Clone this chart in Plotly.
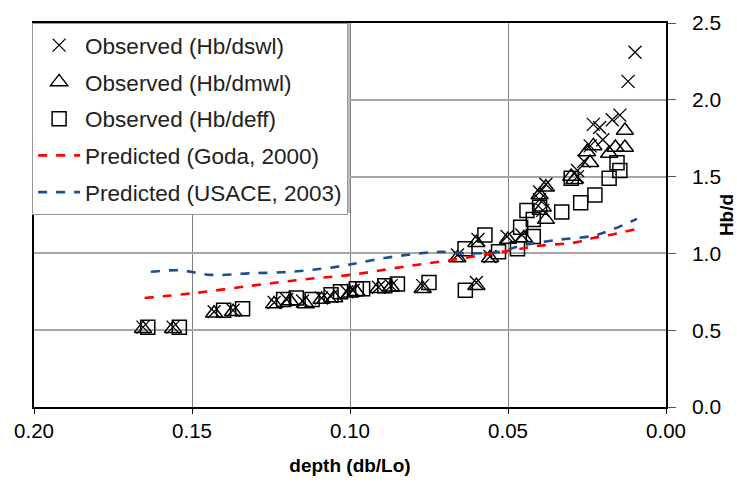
import plotly.graph_objects as go

# Observed (Hb/dswl) - crosses
dswl_x = [0.1655, 0.156, 0.143, 0.137, 0.124, 0.120, 0.115, 0.109, 0.106, 0.101, 0.099, 0.091, 0.087, 0.077, 0.060,
          0.066, 0.0595, 0.0557, 0.0503, 0.0456, 0.039, 0.040, 0.038, 0.040, 0.028, 0.028, 0.026, 0.024, 0.020, 0.023,
          0.021, 0.017, 0.0146, 0.012, 0.0098]
dswl_y = [0.52, 0.52, 0.62, 0.63, 0.68, 0.70, 0.69, 0.71, 0.72, 0.75, 0.76, 0.78, 0.79, 0.79, 0.81,
          0.99, 1.09, 0.98, 1.11, 1.12, 1.28, 1.35, 1.45, 1.40, 1.50, 1.54, 1.60, 1.70, 1.74, 1.84,
          1.82, 1.87, 1.90, 2.12, 2.31]

# Observed (Hb/dmwl) - triangles
dmwl_x = [0.1655, 0.156, 0.143, 0.137, 0.124, 0.119, 0.114, 0.109, 0.105, 0.100, 0.098, 0.091, 0.087, 0.077, 0.060,
          0.066, 0.060, 0.0557, 0.050, 0.045, 0.038, 0.039, 0.038, 0.040, 0.029, 0.030, 0.024, 0.025, 0.023,
          0.018, 0.016, 0.013, 0.013]
dmwl_y = [0.51, 0.51, 0.61, 0.62, 0.67, 0.69, 0.67, 0.70, 0.71, 0.74, 0.75, 0.77, 0.78, 0.77, 0.79,
          0.97, 1.07, 0.97, 1.09, 1.10, 1.22, 1.30, 1.43, 1.38, 1.48, 1.50, 1.59, 1.66, 1.70,
          1.65, 1.69, 1.69, 1.80]

# Observed (Hb/deff) - squares
deff_x = [0.164, 0.154, 0.140, 0.134, 0.121, 0.117, 0.112, 0.106, 0.103, 0.098, 0.096, 0.089, 0.085, 0.075, 0.0635,
          0.0636, 0.0573, 0.053, 0.047, 0.042, 0.046, 0.044, 0.042, 0.040, 0.033, 0.027, 0.0225, 0.030,
          0.018, 0.0146, 0.0155]
deff_y = [0.52, 0.52, 0.63, 0.64, 0.70, 0.71, 0.70, 0.73, 0.75, 0.77, 0.77, 0.79, 0.80, 0.81, 0.76,
          1.03, 1.12, 1.01, 1.03, 1.11, 1.17, 1.28, 1.22, 1.30, 1.27, 1.33, 1.38, 1.49,
          1.49, 1.54, 1.59]

# Predicted (Goda, 2000)
goda_x = [0.165, 0.150, 0.131, 0.115, 0.100, 0.084, 0.067, 0.049, 0.040, 0.029, 0.023, 0.0165, 0.0092]
goda_y = [0.71, 0.74, 0.79, 0.83, 0.86, 0.91, 0.96, 1.02, 1.05, 1.07, 1.10, 1.125, 1.16]

# Predicted (USACE, 2003)
usace_x = [0.163, 0.154, 0.144, 0.132, 0.119, 0.109, 0.102, 0.097, 0.089, 0.078, 0.0715, 0.062, 0.0525, 0.046,
           0.0335, 0.023, 0.0165, 0.0092]
usace_y = [0.88, 0.89, 0.86, 0.87, 0.88, 0.90, 0.92, 0.94, 0.97, 1.00, 1.01, 1.00, 1.01, 1.05,
           1.09, 1.115, 1.16, 1.225]

x_ticks = [0.20, 0.15, 0.10, 0.05, 0.00]
y_ticks = [0.0, 0.5, 1.0, 1.5, 2.0, 2.5]

FONT = "Liberation Sans, Arial, sans-serif"

fig = go.Figure()
fig.add_trace(go.Scatter(x=dswl_x, y=dswl_y, mode="markers", name="Observed (Hb/dswl)", legendgroup="a",
                         marker=dict(symbol="x-thin-open", size=13, line=dict(color="black", width=1.3), color="black")))
fig.add_trace(go.Scatter(x=dmwl_x, y=dmwl_y, mode="markers", name="Observed (Hb/dmwl)", legendgroup="b",
                         marker=dict(symbol="triangle-up-open", size=15, line=dict(color="black", width=1.5), color="black")))
fig.add_trace(go.Scatter(x=deff_x, y=deff_y, mode="markers", name="Observed (Hb/deff)", legendgroup="c",
                         marker=dict(symbol="square-open", size=14, line=dict(color="black", width=1.5), color="black")))
fig.add_trace(go.Scatter(x=goda_x, y=goda_y, mode="lines", name="Predicted (Goda, 2000)", legendgroup="d",
                         line=dict(color="#ff0000", width=2.6, dash="dash", shape="spline")))
fig.add_trace(go.Scatter(x=usace_x, y=usace_y, mode="lines", name="Predicted (USACE, 2003)", legendgroup="e",
                         line=dict(color="#1f4e8c", width=2.6, dash="dash", shape="spline")))

# legend drop shadow (paper coordinates of the plot area)
fig.add_shape(type="rect", xref="paper", yref="paper",
              x0=(347 - 34) / 632, x1=(350 - 34) / 632, y0=(407 - 213) / 384, y1=1.0,
              fillcolor="#bdbdbd", line=dict(width=0), layer="above")

fig.update_layout(
    width=737, height=484,
    margin=dict(l=34, r=71, t=23, b=77, autoexpand=False),
    paper_bgcolor="white", plot_bgcolor="white",
    font=dict(family=FONT, size=21, color="black"),
    showlegend=True,
    legend=dict(x=-0.003, y=1.0, xanchor="left", yanchor="top",
                bgcolor="white", bordercolor="#999999", borderwidth=1,
                font=dict(family=FONT, size=22.5, color="#222222"),
                itemwidth=42,
                tracegroupgap=4.5, traceorder="grouped"),
    xaxis=dict(range=[0.2, 0.0], tickvals=x_ticks, ticktext=[f"{v:.2f}" for v in x_ticks],
               showgrid=True, gridcolor="#808080", gridwidth=1,
               showline=True, linecolor="black", linewidth=1.5, mirror=True,
               ticks="outside", ticklen=5, tickcolor="black", zeroline=False,
               tickfont=dict(size=20.5), automargin=False,
               title=dict(text="<b>depth (db/Lo)</b>", font=dict(size=19), standoff=17)),
    yaxis=dict(range=[0, 2.5], tickvals=y_ticks, ticktext=[f"{v:.1f}" for v in y_ticks], side="right",
               showgrid=True, gridcolor="#a6a6a6", gridwidth=2,
               showline=True, linecolor="black", linewidth=1.5, mirror=True,
               ticks="outside", ticklen=8, tickcolor="#555555", zeroline=False,
               ticklabelstandoff=12, automargin=False,
               title=dict(text="<b>Hb/d</b>", font=dict(size=19), standoff=10)),
)

fig.write_html("out.html")
